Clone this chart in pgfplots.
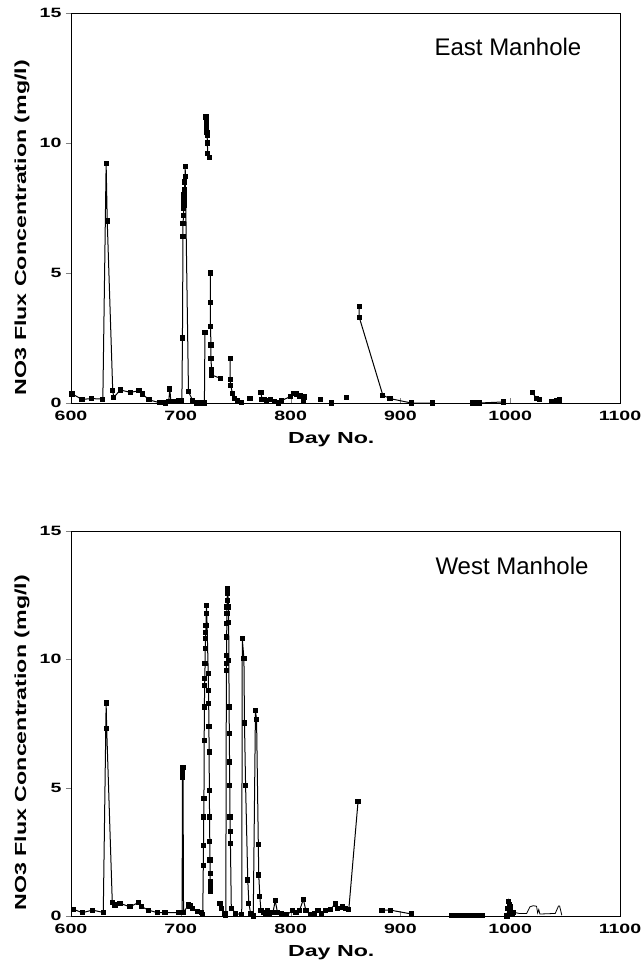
\documentclass[border=0pt]{standalone}
\usepackage{fontspec}
\setmainfont{Liberation Sans}
\newfontfamily\wide{Liberation Sans}[FakeStretch=1.45]
\usepackage{pgfplots}
\pgfplotsset{compat=1.18}
\pgfplotsset{
  mystyle/.style={
    scale only axis, width=549pt,
    xmin=600, xmax=1100, ymin=0, ymax=15,
    xtick={600,700,...,1100}, ytick={0,5,10,15},
    /pgf/number format/assume math mode=true,
    /pgf/number format/1000 sep={},
    ticklabel style={font=\wide\bfseries\fontsize{13.5}{13.5}\selectfont},
    xticklabel style={yshift=-4.5pt},
    yticklabel style={xshift=-1pt},
    xtick pos=bottom, ytick pos=left,
    xtick align=inside, ytick align=outside,
    major tick length=5pt,
    axis line style={line width=0.9pt},
    xlabel={Day No.}, ylabel={NO3 Flux Concentration (mg/l)},
    label style={font=\wide\bfseries\fontsize{16}{16}\selectfont},
    xlabel style={at={(axis description cs:0.474,0)}, anchor=center, yshift=-37pt},
    ylabel style={at={(axis description cs:-0.0893,0.45)}, anchor=center},
    unbounded coords=jump,
  },
  series/.style={black, line width=1pt, mark=square*, mark size=2.1pt, mark options={solid, fill=black, draw=black}},
}
\begin{document}
\begin{tikzpicture}
\useasboundingbox (-71pt,-569pt) rectangle (573pt,403pt);
% ---------------- East Manhole ----------------
\begin{axis}[mystyle, height=390pt, at={(0,0)}, anchor=south west]
\addplot[series] coordinates {
(601,0.35) (610,0.14) (619,0.17) (629,0.15) (632,9.2) (633,7.0) (638,0.47) (639,0.22)
(645,0.5) (654,0.41) (662,0.47) (665,0.35) (671,0.12) (681,0.01) (686,0.0)
(689,0.05) (690,0.54) (691,0.05) (693,0.05) (698,0.1) (701,0.1)
(701.5,2.5) (702,6.4) (702,6.9) (702.5,7.2) (702.5,7.5) (703,7.6) (703,7.8) (703,8.0)
(703.5,8.2) (703.5,8.5) (704,8.7) (704,9.1) (707,0.43) (711,0.09) (714.5,0.0) (719,0.0)
(721.5,0.0) (722,2.7) (722,nan)
(723,11.0) (723.2,10.9) (723.4,10.75) (723.6,10.6) (723.8,10.4) (724,10.3) (724.2,10.0)
(724.5,9.6) (726,9.45) (726,nan)
(727,5.0) (727,3.86) (727,2.93) (727.5,2.23) (727.5,1.7) (728,1.29) (728,1.08) (736,0.95) (736,nan)
(745,1.72) (745,0.9) (745.5,0.67) (747,0.37) (749,0.18) (752,0.09) (755,0.02) (755,nan)
(763,0.17) (763,nan)
(773,0.41) (774,0.12) (776,0.15) (778,0.1) (782,0.12) (785,0.05) (789,0.0) (792,0.1)
(800,0.25) (803,0.37) (805.5,0.35) (808.6,0.27) (811.6,0.1) (813,0.23) (813,nan)
(827,0.14) (827,nan) (837,0.0) (837,nan) (851,0.22) (851,nan)
(862.5,3.7) (862.5,3.3) (884,0.3) (890.5,0.17) (910,0.0) (929,0.0) (929,nan)
(966,0.0) (968,0.0) (970,0.0) (972,0.0) (994,0.04) (994,nan)
(1020,0.41) (1024,0.18) (1026.5,0.14) (1026.5,nan)
(1038,0.05) (1042,0.1) (1044.5,0.05) (1045,0.15)
};
\node[anchor=base east, font=\fontsize{24}{24}\selectfont] at (rel axis cs:0.936,0.892) {East Manhole};
\end{axis}
% ---------------- West Manhole ----------------
\begin{axis}[mystyle, height=385pt, at={(0,-513pt)}, anchor=south west]
\addplot[series] coordinates {
(602,0.26) (610.6,0.13) (619.4,0.23) (629.4,0.14) (632,8.3) (632.5,7.3) (637.6,0.53)
(640,0.43) (644.6,0.49) (653.7,0.36) (661.3,0.52) (664.4,0.36) (670.4,0.23) (678.6,0.13)
(685.6,0.13) (697.7,0.13) (701.2,0.13) (701.5,5.4) (701.7,5.6) (702,5.8) (702.5,0.13)
(706.8,0.43) (708.4,0.39) (710.8,0.3) (715,0.17) (719,0.13) (720,0.05)
(720.5,1.98) (720.7,2.76) (720.9,3.86) (721.1,4.58) (721.3,6.85) (721.5,8.14) (721.7,8.99)
(721.9,9.25) (722.1,9.83) (722.3,10.42) (722.5,10.8) (722.7,11.06) (722.9,11.32)
(723.2,11.78) (723.5,12.1)
(725,9.44) (725.2,8.79) (725.4,8.28) (725.6,7.37) (725.8,6.39) (726,4.9) (726.2,3.86)
(726.4,2.89) (726.6,2.18) (726.7,1.66) (726.8,1.33) (726.9,1.14) (727,0.95) (727,nan)
(735.7,0.49) (737.2,0.3) (740.3,0.1) (741,0.04)
(741.5,9.57) (741.6,9.83) (741.7,10.16) (741.8,10.87) (741.9,11.39) (742,11.78)
(742.1,12.04) (742.2,12.3) (742.4,12.56) (742.6,12.75)
(743.5,12.04) (743.6,11.45) (743.8,9.96) (744,8.14) (744.2,7.11) (744.4,6.0) (744.6,5.1)
(744.8,3.86) (745,3.28) (745.2,2.83) (746,0.3) (750,0.1) (755.5,0.05)
(756,10.8) (757.5,10.03) (758,7.52) (759,5.1) (761,1.4) (762,0.49) (763.6,0.1) (766,0.0)
(768,8.02) (769,7.65) (770.6,2.8) (771,1.6) (772,0.75) (773,0.2)
(775,0.15) (777,0.1) (779,0.2) (781,0.1) (784,0.15) (786,0.6) (788,0.15) (792,0.1)
(796,0.05) (802,0.2) (805,0.15) (808,0.2) (811.6,0.65) (814,0.2) (818,0.05) (822,0.1)
(825,0.2) (828,0.1) (832,0.2) (836,0.25) (840.7,0.47) (843,0.3) (847,0.35) (850,0.3)
(853,0.25) (861.4,4.45) (861.4,nan)
(883.2,0.23) (890.8,0.23) (909.9,0.08) (909.9,nan)
(947,0.03) (949,0.03) (951,0.03) (953,0.03) (955,0.03) (957,0.03) (959,0.03) (961,0.03)
(963,0.03) (965,0.03) (967,0.03) (969,0.03) (971,0.03) (973,0.03) (975,0.03) (975,nan)
(997,0.0) (998,0.3) (998.5,0.56) (999,0.45) (999.5,0.2) (1000,0.35) (1001,0.1)
(1002,0.05) (1003,0.15)
};
\addplot[black, no marks, line width=0.8pt] coordinates {
(1003,0.15) (1008,0.1) (1015,0.1) (1018,0.36) (1021,0.4) (1024,0.38) (1025,0.12)
(1026,0.25) (1027,0.08) (1029,0.08) (1041,0.1) (1044,0.39) (1045,0.39) (1047,0.03)
};
\node[anchor=base east, font=\fontsize{24}{24}\selectfont] at (rel axis cs:0.949,0.886) {West Manhole};
\end{axis}
\end{tikzpicture}
\end{document}
